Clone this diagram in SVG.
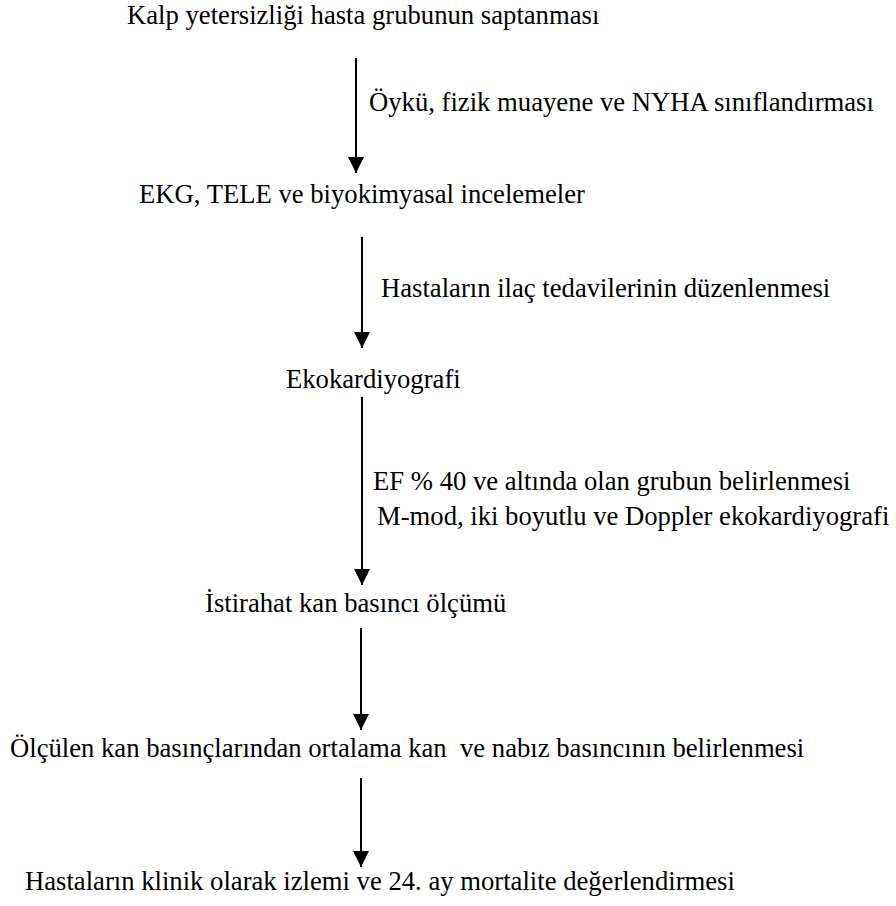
<svg xmlns="http://www.w3.org/2000/svg" width="896" height="906" viewBox="0 0 896 906">
<style>
text{font-family:"Liberation Serif","Times New Roman","DejaVu Serif",serif;font-size:26.67px;fill:#000;white-space:pre}
.c line{stroke:#000;stroke-width:2}
</style>
<defs>
<marker id="ah" viewBox="0 0 16 16" refX="16" refY="8" markerWidth="16" markerHeight="16" markerUnits="userSpaceOnUse" orient="auto">
<path d="M0,0 L16,8 L0,16 Z" fill="#000"/>
</marker>
</defs>
<rect width="896" height="906" fill="#fff"/>
<g id="n1"><text x="127" y="24">Kalp yetersizliği hasta grubunun saptanması</text></g>
<g id="n2"><text x="139" y="203">EKG, TELE ve biyokimyasal incelemeler</text></g>
<g id="n3"><text x="286" y="388">Ekokardiyografi</text></g>
<g id="n4"><text x="205" y="612">İstirahat kan basıncı ölçümü</text></g>
<g id="n5"><text x="10" y="757" xml:space="preserve">Ölçülen kan basınçlarından ortalama kan  ve nabız basıncının belirlenmesi</text></g>
<g id="n6"><text x="25" y="890">Hastaların klinik olarak izlemi ve 24. ay mortalite değerlendirmesi</text></g>
<g id="connectors" class="c">
<line x1="356" y1="58" x2="356" y2="173" marker-end="url(#ah)"/>
<line x1="362" y1="237" x2="362" y2="348" marker-end="url(#ah)"/>
<line x1="362" y1="397" x2="362" y2="585" marker-end="url(#ah)"/>
<line x1="361" y1="628" x2="361" y2="730" marker-end="url(#ah)"/>
<line x1="361" y1="778" x2="361" y2="867" marker-end="url(#ah)"/>
</g>
<g id="labels">
<text x="369" y="111">Öykü, fizik muayene ve NYHA sınıflandırması</text>
<text x="381" y="297">Hastaların ilaç tedavilerinin düzenlenmesi</text>
<text x="373" y="490">EF % 40 ve altında olan grubun belirlenmesi</text>
<text x="377" y="525">M-mod, iki boyutlu ve Doppler ekokardiyografi</text>
</g>
</svg>
